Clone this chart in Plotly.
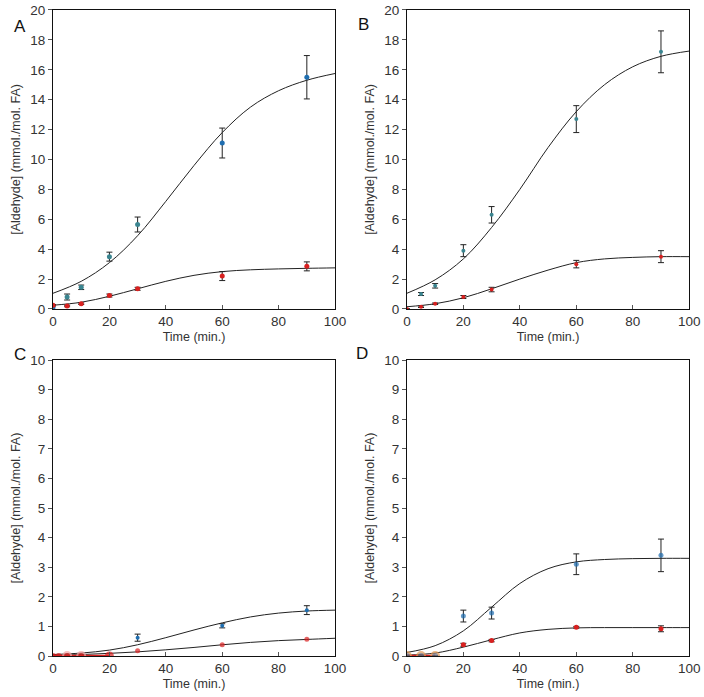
# -*- coding: utf-8 -*-
"""Aldehyde formation over time - 4 panels (A-D)."""

import plotly.graph_objects as go

# -- data --
t_pts = [0, 5, 10, 20, 30, 60, 90]
t_fit = [0, 10, 20, 30, 40, 50, 60, 70, 80, 90, 100]

# A
a_blue = [0.1, 0.8, 1.45, 3.5, 5.65, 11.1, 15.5]
a_blue_err = [0.15, 0.2, 0.15, 0.3, 0.5, 1.0, 1.45]
a_red = [0.25, 0.2, 0.35, 0.9, 1.35, 2.2, 2.85]
a_red_err = [0.05, 0.05, 0.05, 0.1, 0.1, 0.3, 0.3]
a_blue_fit = [1.05, 1.85, 3.1, 4.9, 7.2, 9.6, 11.8, 13.5, 14.6, 15.3, 15.75]
a_red_fit = [0.25, 0.45, 0.85, 1.35, 1.85, 2.25, 2.5, 2.62, 2.68, 2.72, 2.75]

# B
b_blue_t = [5, 10, 20, 30, 60, 90]
b_blue = [1.0, 1.55, 3.9, 6.3, 12.7, 17.2]
b_blue_err = [0.1, 0.15, 0.4, 0.55, 0.9, 1.4]
b_red = [0.0, 0.15, 0.35, 0.8, 1.3, 3.0, 3.5]
b_red_err = [0.02, 0.05, 0.05, 0.1, 0.15, 0.25, 0.4]
b_blue_fit = [1.05, 1.95, 3.35, 5.45, 8.0, 10.8, 13.2, 15.0, 16.2, 16.9, 17.25]
b_red_fit = [0.15, 0.35, 0.75, 1.35, 2.0, 2.6, 3.1, 3.35, 3.45, 3.5, 3.5]

# C
c_blue_t = [30, 60, 90]
c_blue = [0.62, 1.02, 1.55]
c_blue_err = [0.12, 0.07, 0.15]
c_red_t = [0, 2, 5, 10, 20, 30, 60, 90]
c_red = [0.0, 0.0, 0.0, 0.0, 0.0, 0.18, 0.38, 0.57]
c_blue_fit = [0.05, 0.1, 0.2, 0.38, 0.62, 0.88, 1.12, 1.32, 1.45, 1.52, 1.55]
c_red_fit = [0.02, 0.05, 0.09, 0.14, 0.21, 0.29, 0.38, 0.46, 0.52, 0.56, 0.6]

# D
d_blue = [0.0, 0.0, 0.0, 1.35, 1.45, 3.1, 3.4]
d_blue_err = [0, 0, 0, 0.2, 0.2, 0.35, 0.55]
d_red = [0.0, 0.0, 0.0, 0.38, 0.52, 0.97, 0.92]
d_red_err = [0, 0, 0, 0.05, 0.04, 0.03, 0.1]
d_blue_fit = [0.12, 0.35, 0.85, 1.65, 2.45, 2.95, 3.18, 3.26, 3.29, 3.3, 3.3]
d_red_fit = [0.03, 0.1, 0.3, 0.55, 0.78, 0.9, 0.95, 0.96, 0.96, 0.96, 0.96]

BLUE = "#1f6eb0"
TEAL = "#3a8590"
RED = "#d8201f"
FONT = "Liberation Sans, Arial, sans-serif"


def _err(vals):
    return dict(type="data", array=vals, color="#222", thickness=1, width=3)


def _pts(x, y, color, err=None, size=5, xa="x", ya="y", line=None):
    return go.Scatter(x=x, y=y, mode="markers", xaxis=xa, yaxis=ya,
                      marker=dict(color=color, size=size, line=line or dict(width=0)),
                      error_y=_err(err) if err else None, showlegend=False)


def _fit(y, xa="x", ya="y"):
    return go.Scatter(x=t_fit, y=y, mode="lines", xaxis=xa, yaxis=ya,
                      line=dict(color="#222", width=1, shape="spline"),
                      showlegend=False, hoverinfo="skip")


def _seg(x, y, xa, ya):
    return go.Scatter(x=x, y=y, mode="lines", xaxis=xa, yaxis=ya,
                      line=dict(color=RED, width=2.5), showlegend=False, hoverinfo="skip")


fig = go.Figure()
# A
fig.add_trace(_fit(a_blue_fit, "x", "y"))
fig.add_trace(_fit(a_red_fit, "x", "y"))
fig.add_trace(_pts(t_pts, a_blue, [BLUE, TEAL, TEAL, TEAL, TEAL, BLUE, BLUE], a_blue_err, xa="x", ya="y"))
fig.add_trace(_pts(t_pts, a_red, RED, a_red_err, xa="x", ya="y"))
# B
fig.add_trace(_fit(b_blue_fit, "x2", "y2"))
fig.add_trace(_fit(b_red_fit, "x2", "y2"))
fig.add_trace(_pts(b_blue_t, b_blue, TEAL, b_blue_err, size=4, xa="x2", ya="y2"))
fig.add_trace(_pts(t_pts, b_red, RED, b_red_err, size=4, xa="x2", ya="y2"))
# C
fig.add_trace(_fit(c_blue_fit, "x3", "y3"))
fig.add_trace(_fit(c_red_fit, "x3", "y3"))
fig.add_trace(_pts(c_blue_t, c_blue, BLUE, c_blue_err, size=4, xa="x3", ya="y3"))
fig.add_trace(_seg(c_red_t[:5], c_red[:5], "x3", "y3"))
fig.add_trace(_pts(c_red_t, c_red, RED, size=[6, 6, 8, 8, 9, 5, 5, 5], xa="x3", ya="y3",
                   line=dict(color="#f4a5a5", width=[0, 0, 2, 2, 0, 0, 0, 0])))
# D
fig.add_trace(_fit(d_blue_fit, "x4", "y4"))
fig.add_trace(_fit(d_red_fit, "x4", "y4"))
fig.add_trace(_seg(t_pts[:3], d_red[:3], "x4", "y4"))
fig.add_trace(_pts(t_pts, d_blue, ["#6f7488"] * 3 + [BLUE] * 4, d_blue_err,
                   size=[8, 8, 8, 5, 5, 5, 5], xa="x4", ya="y4",
                   line=dict(color="#e39a58", width=[2, 2, 2, 0, 0, 0, 0])))
fig.add_trace(_pts(t_pts[3:], d_red[3:], RED, d_red_err[3:], size=5, xa="x4", ya="y4"))

xcols = [[0.0753, 0.4759], [0.578, 0.979]]
yrows = [[0.5567, 0.9857], [0.0588, 0.4835]]

ax_common = dict(showline=True, linecolor="#111", linewidth=1, mirror=True,
                 showgrid=False, zeroline=False, ticklen=4, tickcolor="#555",
                 automargin=False,
                 tickfont=dict(size=13.5, color="#333", family=FONT))

layout = dict(
    width=704, height=697,
    margin=dict(l=0, r=0, t=0, b=0),
    plot_bgcolor="white", paper_bgcolor="white",
    font=dict(family=FONT, color="#333"),
)
ytitle = "[Aldehyde] (mmol./mol. FA)"
for i, (c, r, ymax, dt) in enumerate([(0, 0, 20, 2), (1, 0, 20, 2), (0, 1, 10, 1), (1, 1, 10, 1)]):
    k = "" if i == 0 else str(i + 1)
    layout["xaxis" + k] = dict(ax_common, domain=xcols[c], anchor="y" + k, range=[0, 100],
                               dtick=20, ticks="inside",
                               title=dict(text="Time (min.)", standoff=4,
                                          font=dict(size=12.5, family=FONT, color="#333")))
    layout["yaxis" + k] = dict(ax_common, domain=yrows[r], anchor="x" + k, range=[0, ymax],
                               dtick=dt, ticks="outside",
                               title=dict(text=ytitle, standoff=6,
                                          font=dict(size=12.5, family=FONT, color="#333")))
fig.update_layout(**layout)

for lbl, x, y in [("A", 12, 15), ("B", 363, 13), ("C", 12, 355), ("D", 362, 353)]:
    fig.add_annotation(text=lbl, x=x / 704, y=1 - y / 697, xref="paper", yref="paper",
                       showarrow=False, font=dict(size=17, family=FONT, color="#111"))

# page body has a default 8px margin that would clip the figure edges
fig.write_html("out.html", config={"displayModeBar": False},
               post_script="document.body.style.margin='0';")
